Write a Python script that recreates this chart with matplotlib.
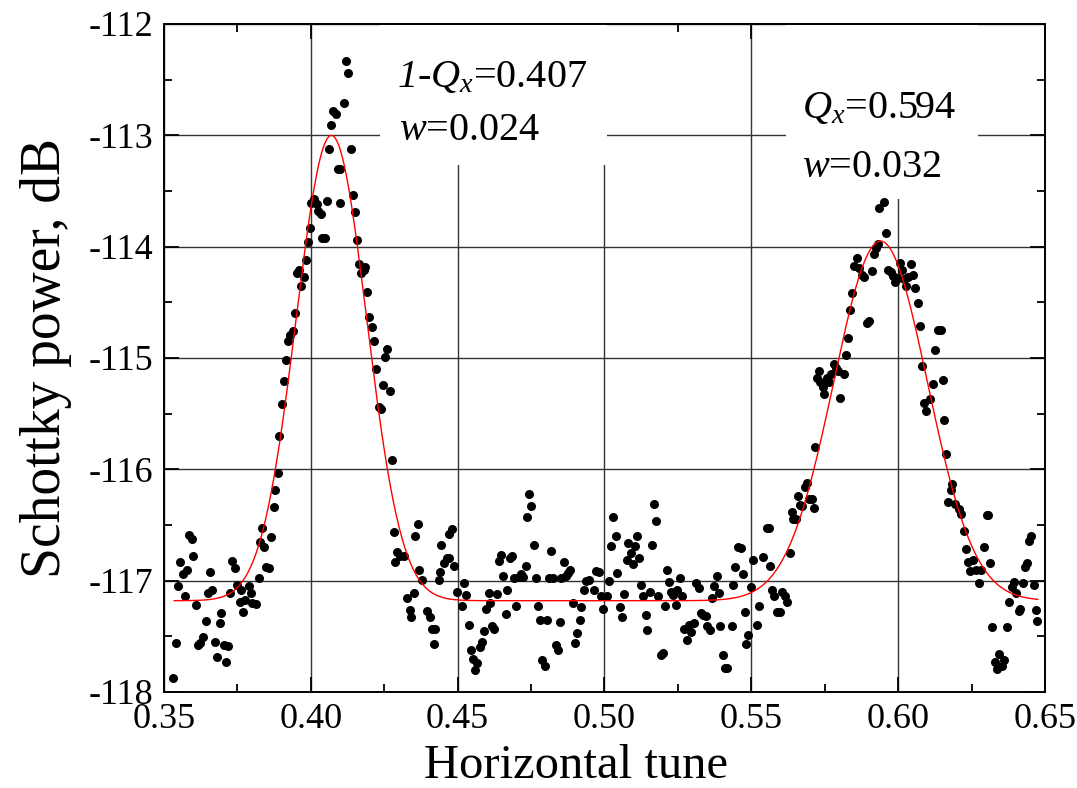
import numpy as np
import matplotlib
matplotlib.use("Agg")
import matplotlib.pyplot as plt
from matplotlib.patches import Rectangle

plt.rcParams['font.family'] = ['Liberation Serif', 'DejaVu Serif']
plt.rcParams['mathtext.fontset'] = 'custom'
plt.rcParams['mathtext.rm'] = 'Liberation Serif'
plt.rcParams['mathtext.it'] = 'Liberation Serif:italic'
# \mathsf is used only for the italic digit "1"
plt.rcParams['mathtext.sf'] = 'Liberation Serif:italic'
plt.rcParams['axes.unicode_minus'] = False

# measured Schottky spectrum: tune vs power (dB)
tune = [
    0.3532, 0.3541, 0.3549, 0.3556, 0.3564, 0.3572, 0.3577, 0.3585, 0.3594, 0.3600,
    0.3608, 0.3615, 0.3623, 0.3634, 0.3644, 0.3651, 0.3658, 0.3665, 0.3674, 0.3681,
    0.3689, 0.3695, 0.3705, 0.3711, 0.3719, 0.3725, 0.3733, 0.3741, 0.3748, 0.3758,
    0.3763, 0.3768, 0.3777, 0.3788, 0.3797, 0.3800, 0.3813, 0.3822, 0.3827, 0.3833,
    0.3842, 0.3848, 0.3857, 0.3865, 0.3873, 0.3878,
    0.3887, 0.3893, 0.3901, 0.3907, 0.3915, 0.3922, 0.3930, 0.3938, 0.3945, 0.3953,
    0.3960, 0.3968, 0.3976, 0.3983, 0.3989, 0.3997, 0.4002, 0.4012, 0.4021, 0.4026,
    0.4035, 0.4039, 0.4048, 0.4056, 0.4063, 0.4068, 0.4075, 0.4084, 0.4091, 0.4098,
    0.4100, 0.4114, 0.4120, 0.4127, 0.4136, 0.4143, 0.4149, 0.4157, 0.4163, 0.4171,
    0.4180, 0.4186, 0.4191, 0.4199, 0.4208, 0.4216, 0.4223, 0.4231, 0.4239, 0.4246,
    0.4254, 0.4260, 0.4269, 0.4277,
    0.4282, 0.4288, 0.4295, 0.4305, 0.4316, 0.4327, 0.4336, 0.4341, 0.4350, 0.4356,
    0.4364, 0.4370, 0.4378, 0.4396, 0.4407, 0.4413, 0.4421, 0.4424, 0.4438, 0.4441,
    0.4444, 0.4452, 0.4462, 0.4469, 0.4472, 0.4481, 0.4486, 0.4498,
    0.4515, 0.4523, 0.4530, 0.4538, 0.4546, 0.4551, 0.4559, 0.4566, 0.4575, 0.4582,
    0.4589, 0.4596, 0.4606, 0.4611, 0.4617, 0.4625, 0.4634, 0.4641, 0.4648, 0.4655,
    0.4663, 0.4668, 0.4677, 0.4685, 0.4693, 0.4700, 0.4708, 0.4714, 0.4723, 0.4731,
    0.4735, 0.4743, 0.4750, 0.4759, 0.4767, 0.4773, 0.4779, 0.4787, 0.4796, 0.4805,
    0.4810, 0.4817, 0.4826, 0.4834, 0.4841, 0.4847, 0.4853, 0.4861, 0.4868, 0.4876,
    0.4884, 0.4892, 0.4900, 0.4906, 0.4915, 0.4920, 0.4929, 0.4938, 0.4947, 0.4964,
    0.4972, 0.4980, 0.4987, 0.4996,
    0.5009, 0.5015, 0.5023, 0.5030, 0.5038, 0.5043, 0.5052, 0.5058, 0.5066, 0.5075,
    0.5080, 0.5089, 0.5096, 0.5103, 0.5112, 0.5118, 0.5125, 0.5132, 0.5140, 0.5146,
    0.5154, 0.5161, 0.5168, 0.5176, 0.5183, 0.5191, 0.5198, 0.5206, 0.5214, 0.5221,
    0.5228, 0.5234, 0.5242, 0.5248, 0.5256, 0.5263, 0.5271, 0.5280, 0.5287, 0.5295,
    0.5304, 0.5313, 0.5321, 0.5328, 0.5336, 0.5344, 0.5350, 0.5358, 0.5365, 0.5373,
    0.5382, 0.5390, 0.5395, 0.5403, 0.5410, 0.5418, 0.5433, 0.5438, 0.5446, 0.5455,
    0.5464, 0.5470, 0.5478, 0.5483, 0.5490, 0.5498, 0.5507, 0.5518, 0.5526,
    0.5541, 0.5553, 0.5560, 0.5564, 0.5572, 0.5578, 0.5589, 0.5598, 0.5606, 0.5614,
    0.5623, 0.5632, 0.5637, 0.5643, 0.5651, 0.5659, 0.5666, 0.5674, 0.5682, 0.5691,
    0.5698, 0.5705, 0.5712, 0.5718, 0.5725, 0.5732, 0.5734, 0.5743, 0.5748, 0.5757,
    0.5765, 0.5771, 0.5780, 0.5788, 0.5796, 0.5803, 0.5817, 0.5822, 0.5828, 0.5835,
    0.5842, 0.5851, 0.5860, 0.5868, 0.5876, 0.5885, 0.5894, 0.5902, 0.5910, 0.5919,
    0.5925, 0.5931, 0.5936,
    0.5951, 0.5960, 0.5965, 0.5975, 0.5983, 0.5988, 0.5998, 0.6006, 0.6014, 0.6021,
    0.6025, 0.6035, 0.6044, 0.6050, 0.6058, 0.6066, 0.6075, 0.6081, 0.6089, 0.6096,
    0.6108, 0.6118, 0.6125, 0.6137, 0.6145, 0.6151, 0.6156, 0.6164, 0.6171, 0.6179,
    0.6185, 0.6194, 0.6206, 0.6214, 0.6223, 0.6231, 0.6237, 0.6245, 0.6255, 0.6264,
    0.6275, 0.6283, 0.6291, 0.6301, 0.6306, 0.6312, 0.6318, 0.6330, 0.6335, 0.6343,
    0.6353, 0.6361, 0.6372, 0.6379, 0.6387, 0.6393, 0.6402, 0.6410, 0.6416, 0.6425,
    0.6433, 0.6439, 0.6445, 0.6453, 0.6462, 0.6468, 0.6474,
]
power = [
    -117.87, -117.56, -117.05, -116.83, -116.94, -117.14, -116.90, -116.59, -116.63, -116.78,
    -117.22, -117.58, -117.56, -117.51, -117.36, -117.11, -116.92, -117.08, -117.55, -117.69,
    -117.38, -117.29, -117.58, -117.73, -117.59, -117.11, -116.82, -116.89, -117.04, -117.19,
    -117.08, -117.28, -117.17, -117.05, -117.11, -117.20, -117.21, -116.98, -116.65, -116.53,
    -116.70, -116.88, -116.89, -116.61, -116.34, -116.19,
    -116.03, -115.70, -115.41, -115.21, -115.02, -114.85, -114.79, -114.76, -114.60, -114.24,
    -114.21, -114.35, -114.27, -114.12, -113.96, -113.83, -113.61, -113.57, -113.62, -113.68,
    -113.71, -113.92, -113.92, -113.59, -113.12, -112.91, -112.78, -112.81, -113.30, -113.61,
    -113.30, -112.71, -112.33, -112.44, -113.12, -113.54, -113.69, -113.94, -114.16, -114.24,
    -114.21, -114.18, -114.41, -114.63, -114.72, -114.85, -115.10, -115.44, -115.46, -115.24,
    -114.99, -114.92, -115.30, -115.92,
    -116.56, -116.83, -116.74, -116.78, -116.78, -117.16, -117.26, -117.33, -117.11, -116.60,
    -116.49, -116.90, -116.99, -117.27, -117.33, -117.43, -117.57, -117.43, -116.99, -116.92,
    -116.68, -116.84, -116.80, -116.80, -116.58, -116.54, -116.87, -117.10,
    -117.23, -117.02, -117.13, -117.40, -117.62, -117.70, -117.80, -117.74, -117.60, -117.55,
    -117.45, -117.25, -117.11, -117.20, -117.41, -117.43, -117.12, -116.82, -116.77, -116.96,
    -117.30, -117.08, -116.80, -116.78, -116.98, -117.23, -116.97, -116.94, -116.97, -116.87,
    -116.43, -116.22, -116.33, -116.68, -116.98, -117.23, -117.35, -117.71, -117.77, -117.35,
    -116.98, -116.73, -116.98, -117.58, -117.62, -117.37, -116.98, -116.83, -116.96, -116.93,
    -116.90, -117.20, -117.56, -117.47, -117.35, -117.24, -117.08, -117.00, -116.99, -117.08,
    -116.91, -116.92, -117.14, -117.25,
    -117.14, -117.00, -116.69, -116.43, -116.60, -116.93, -117.24, -117.33, -117.12, -116.81,
    -116.66, -116.75, -116.85, -116.69, -116.60, -116.80, -117.04, -117.14, -117.31, -117.44,
    -117.10, -116.68, -116.31, -116.46, -117.14, -117.67, -117.65, -117.23, -116.90, -117.01,
    -117.10, -117.13, -117.22, -117.08, -116.98, -117.14, -117.43, -117.53, -117.40, -117.46,
    -117.38, -117.02, -117.07, -117.29, -117.31, -117.32, -117.41, -117.44, -117.16, -117.05,
    -116.96, -117.11, -117.41, -117.67, -117.78, -117.78, -117.41, -117.04, -116.88, -116.70,
    -116.71, -116.94, -117.28, -117.57, -117.49, -117.06, -116.81, -117.40, -117.23,
    -116.79, -116.53, -116.53, -116.87, -117.08, -117.14, -117.28, -117.28, -117.10, -117.14,
    -117.19, -116.75, -116.38, -116.45, -116.45, -116.24, -116.32, -116.33, -116.16, -116.12,
    -116.27, -116.27, -116.35, -115.80, -115.18, -115.12, -115.22, -115.26, -115.32, -115.18,
    -115.22, -115.14, -115.05, -115.09, -115.12, -115.36, -115.14, -114.97, -114.82, -114.57,
    -114.42, -114.17, -114.10, -114.19, -114.25, -114.27, -114.69, -114.67, -114.22, -114.07,
    -114.01, -113.98, -113.65,
    -113.60, -113.88, -114.21, -114.23, -114.26, -114.32, -114.28, -114.15, -114.21, -114.29,
    -114.35, -114.27, -114.16, -114.25, -114.37, -114.51, -114.71, -115.07, -115.40, -115.48,
    -115.37, -115.23, -114.93, -114.75, -114.75, -115.20, -115.56, -115.86, -116.29, -116.19,
    -116.13, -116.31, -116.36, -116.40, -116.55, -116.72, -116.83, -116.91, -116.81, -116.90,
    -117.02, -116.90, -116.70, -116.41, -116.41, -116.84, -117.42, -117.73, -117.79, -117.66,
    -117.77, -117.71, -117.42, -117.19, -117.06, -117.01, -117.11, -117.27, -117.25, -117.02,
    -116.88, -116.84, -116.64, -116.60, -117.04, -117.26, -117.36,
]

# two-Gauss fit: baseline, peak heights, centres and widths (Origin "w" = 2 sigma)
base = -117.18
peak_top = [-113.0, -113.95]
centre = [0.407, 0.594]
width = [0.024, 0.032]

fit_x = np.linspace(0.3535, 0.6475, 600)
fit_y = np.full_like(fit_x, base)
for top, xc, w in zip(peak_top, centre, width):
    fit_y += (top - base) * np.exp(-2 * (fit_x - xc) ** 2 / w ** 2)

fig = plt.figure(figsize=(10.77, 7.88), dpi=100)
ax = fig.add_axes([164 / 1077, 1 - 692 / 788, (1045 - 164) / 1077, (692 - 24) / 788])

ax.plot(tune, power, 'o', color='black', ms=6.5, mew=0, zorder=3)
ax.plot(fit_x, fit_y, color='red', lw=1.0, zorder=4)

ax.set_xlim(0.35, 0.65)
ax.set_ylim(-118, -112)
ax.set_xticks(np.arange(0.35, 0.651, 0.05))
ax.set_xticks(np.arange(0.375, 0.65, 0.05), minor=True)
ax.set_yticks(np.arange(-118, -111.9, 1))
ax.set_yticks(np.arange(-117.5, -112, 1), minor=True)
ax.xaxis.set_major_formatter(plt.FormatStrFormatter('%.2f'))
ax.yaxis.set_major_formatter(plt.FormatStrFormatter('%d'))
ax.grid(True, which='major', color='#333333', lw=1.0)
ax.tick_params(which='both', direction='in', top=True, right=True, width=1.3)
ax.tick_params(which='major', length=11, labelsize=26, pad=8)
ax.tick_params(which='minor', length=6)
for s in ax.spines.values():
    s.set_linewidth(1.4)

ax.set_xlabel('Horizontal tune', fontsize=35)
ax.set_ylabel('Schottky power, dB', fontsize=40)
ax.xaxis.set_label_coords((576 - 164) / 881, -0.078)
ax.yaxis.set_label_coords(-0.104, 0.5)

# white boxes behind the fit annotations
ax.add_patch(Rectangle((0.4237, -113.265), 0.0773, 1.265, facecolor='white',
                       edgecolor='none', zorder=2))
ax.add_patch(Rectangle((0.5617, -113.571), 0.0655, 1.571, facecolor='white',
                       edgecolor='none', zorder=2))

kw = dict(fontsize=29, ha='left', va='baseline', zorder=5)
ax.text(0.4293, -112.562, r'$\mathsf{1}$-$\mathit{Q}_\mathit{x}$=0.407', **kw)
ax.text(0.4301, -113.04, r'$\mathit{w}$=0.024', **kw)
ax.text(0.5674, -112.843, r'$\mathit{Q}_\mathit{x}$=0.594', **kw)
ax.text(0.5674, -113.37, r'$\mathit{w}$=0.032', **kw)

fig.savefig('out.png', dpi=100)
